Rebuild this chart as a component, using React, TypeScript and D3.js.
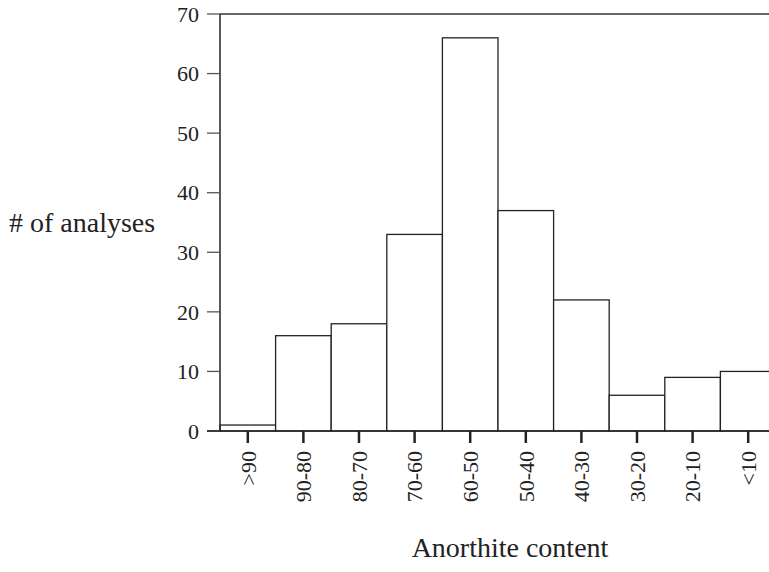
import React, { useRef, useEffect } from "react";
import * as d3 from "d3";

const categories = [">90", "90-80", "80-70", "70-60", "60-50", "50-40", "40-30", "30-20", "20-10", "<10"];
const counts = [1, 16, 18, 33, 66, 37, 22, 6, 9, 10];
const yTicks = [0, 10, 20, 30, 40, 50, 60, 70];

const W = 769;
const H = 572;

const App = () => {
  const ref = useRef<SVGSVGElement>(null);

  useEffect(() => {
    const svg = d3.select(ref.current);
    svg.selectAll("*").remove();
    const font = "'Liberation Serif', 'Times New Roman', serif";

    const x = d3.scaleBand<string>().domain(categories).range([220, 776]).padding(0);
    const y = d3.scaleLinear().domain([0, 70]).range([431, 14]);

    const g = svg.append("g");

    // bars
    g.selectAll("rect.bar")
      .data(categories)
      .enter()
      .append("rect")
      .attr("class", "bar")
      .attr("x", (d) => x(d)!)
      .attr("y", (d, i) => y(counts[i]))
      .attr("width", x.bandwidth())
      .attr("height", (d, i) => y(0) - y(counts[i]))
      .attr("fill", "#fff")
      .attr("stroke", "#222")
      .attr("stroke-width", 1.3);

    // top frame line
    g.append("line")
      .attr("x1", 220).attr("x2", W)
      .attr("y1", y(70)).attr("y2", y(70))
      .attr("stroke", "#333").attr("stroke-width", 1.3);

    // y axis
    g.append("line")
      .attr("x1", 220).attr("x2", 220)
      .attr("y1", y(70)).attr("y2", y(0))
      .attr("stroke", "#222").attr("stroke-width", 1.5);

    yTicks.forEach((t) => {
      g.append("line")
        .attr("x1", 207).attr("x2", 220)
        .attr("y1", y(t)).attr("y2", y(t))
        .attr("stroke", "#555").attr("stroke-width", 1.3);
      g.append("text")
        .attr("x", 199)
        .attr("y", y(t))
        .attr("dy", "0.35em")
        .attr("text-anchor", "end")
        .attr("font-family", font)
        .attr("font-size", "22px")
        .attr("fill", "#222")
        .text(t);
    });

    // x axis line
    g.append("line")
      .attr("x1", 207).attr("x2", W)
      .attr("y1", y(0)).attr("y2", y(0))
      .attr("stroke", "#222").attr("stroke-width", 1.5);

    categories.forEach((c) => {
      const cx = x(c)! + x.bandwidth() / 2;
      g.append("line")
        .attr("x1", cx).attr("x2", cx)
        .attr("y1", y(0)).attr("y2", y(0) + 12)
        .attr("stroke", "#222").attr("stroke-width", 2.5);
      g.append("text")
        .attr("transform", `translate(${cx},451) rotate(-90)`)
        .attr("dy", "0.35em")
        .attr("text-anchor", "end")
        .attr("font-family", font)
        .attr("font-size", "22px")
        .attr("fill", "#222")
        .text(c);
    });

    // axis titles
    g.append("text")
      .attr("x", 9)
      .attr("y", 232)
      .attr("font-family", font)
      .attr("font-size", "28px")
      .attr("fill", "#222")
      .text("# of analyses");

    g.append("text")
      .attr("x", 510)
      .attr("y", 557)
      .attr("text-anchor", "middle")
      .attr("font-family", font)
      .attr("font-size", "28px")
      .attr("fill", "#222")
      .text("Anorthite content");
  }, []);

  return (
    <svg
      ref={ref}
      width={W}
      height={H}
      style={{ position: "absolute", left: 0, top: 0, background: "#fff" }}
    />
  );
};

export default App;
